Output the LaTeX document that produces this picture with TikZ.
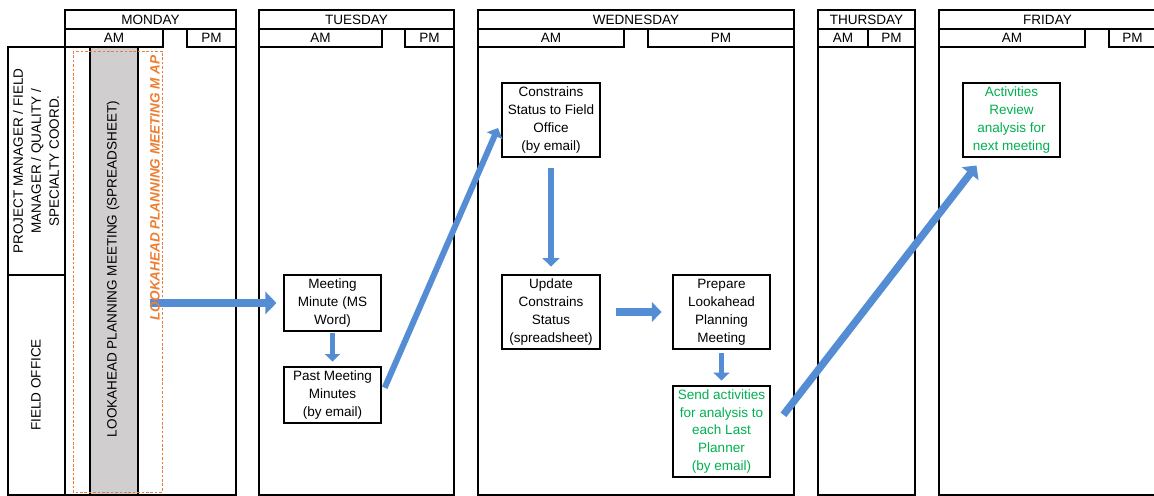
\documentclass[tikz,border=0pt]{standalone}
\usepackage{fontspec}
\setmainfont{Liberation Sans}
\usepackage{tikz}
\usetikzlibrary{arrows.meta}

\definecolor{flowblue}{RGB}{84,141,212}
\definecolor{maporange}{RGB}{237,125,49}
\definecolor{notegreen}{RGB}{0,176,80}
\definecolor{bargray}{RGB}{208,206,206}

\tikzset{
  frame/.style={line width=0.6pt},
  lbl/.style={inner sep=0pt, font=\fontsize{7.7}{10.2}\selectfont},
  box/.style={draw, fill=white, line width=0.6pt, inner sep=0pt, align=center,
    minimum width=1.94cm, minimum height=1.48cm, font=\fontsize{7.7}{10.2}\selectfont},
  flow/.style={draw=flowblue, line width=#1,
    -{Triangle[length=0pt 1.4, width=0pt 2.8, fill=flowblue]}},
}

\begin{document}
\begin{tikzpicture}[x=0.02cm, y=-0.02cm]
  \useasboundingbox (0,0) rectangle (1154,496);
  \clip (0,0) rectangle (1154,496);
  % day columns
  \foreach \L/\R/\a/\p/\day in {65/236/163/187/MONDAY, 259/454/382/405/TUESDAY,
      478/794/624/648/WEDNESDAY, 818/915/868/868/THURSDAY, 939/1156/1085/1109/FRIDAY} {
    \draw[frame] (\L,10) rectangle (\R,29);
    \draw[frame] (\L,29) rectangle (\a,47);
    \draw[frame] (\p,29) rectangle (\R,47);
    \draw[frame] (\L,47) -- (\L,495) -- (\R,495) -- (\R,47);
    \node[lbl] (d-\day) at ({(\L+\R)/2},19.5) {\day};
    \node[lbl] (am-\day) at ({(\L+\a)/2},38) {AM};
    \node[lbl] (pm-\day) at ({(\p+\R)/2},38) {PM};
  }
  % roles
  \draw[frame] (8,47) rectangle (65,495);
  \draw[frame] (8,275) -- (65,275);
  \node[lbl, rotate=90, align=center] (role) at (36,161)
    {PROJECT MANAGER / FIELD\\MANAGER / QUALITY /\\SPECIALTY COORD.};
  \node[lbl, rotate=90] (office) at (36,385) {FIELD OFFICE};
  % monday meeting
  \draw[frame, fill=bargray] (90,47) rectangle (138,495);
  \node[lbl, rotate=90] (sheet) at (113,269) {LOOKAHEAD PLANNING MEETING (SPREADSHEET)};
  \draw[maporange, line width=0.5pt, dash pattern=on 1.5pt off 1pt] (73,51) rectangle (162,492);
  % steps
  \node[box, minimum height=1.12cm] (mm) at (332.5,303) {Meeting\\Minute (MS\\Word)};
  \node[box, minimum height=1.12cm] (pm) at (332.5,395) {Past Meeting\\Minutes\\(by email)};
  \node[box, minimum width=1.96cm] (csf) at (551,120) {Constrains\\Status to Field\\Office\\(by email)};
  \node[box, minimum width=1.96cm] (ucs) at (551,312) {Update\\Constrains\\Status\\(spreadsheet)};
  \node[box] (prep) at (721.5,312) {Prepare\\Lookahead\\Planning\\Meeting};
  \node[box, minimum height=1.82cm, text=notegreen] (send) at (721.5,431.5)
    {Send activities\\for analysis to\\each Last\\Planner\\(by email)};
  \node[box, text=notegreen] (act) at (1011.5,120) {Activities\\Review\\analysis for\\next meeting};
  % arrows
  \coordinate (mapout) at (150,303);
  \draw[flow=4.5pt, shorten >=4pt] (mapout) -- (mm.west);
  \draw[flow=3pt, shorten <=1.1pt, shorten >=2.8pt] (mm) -- (pm);
  \draw[flow=3.4pt, shorten <=4.5pt, shorten >=5pt] (pm.east) -- (csf.west);
  \draw[flow=3.4pt, shorten <=6.2pt, shorten >=4.5pt] (csf) -- (ucs);
  \draw[flow=4pt, shorten <=9pt, shorten >=6.2pt] (ucs) -- (prep);
  \draw[flow=3.2pt, shorten <=1.7pt, shorten >=2.8pt] (prep) -- (send);
  \draw[flow=4.2pt, shorten <=12pt] (send.east) -- ([shift={(14,8)}]act.south west);
  \node[lbl, rotate=90, text=maporange, font=\fontsize{7.7}{10.2}\selectfont\bfseries\itshape]
    (maptext) at (155,188) {LOOKAHEAD PLANNING MEETING M AP};
\end{tikzpicture}
\end{document}
